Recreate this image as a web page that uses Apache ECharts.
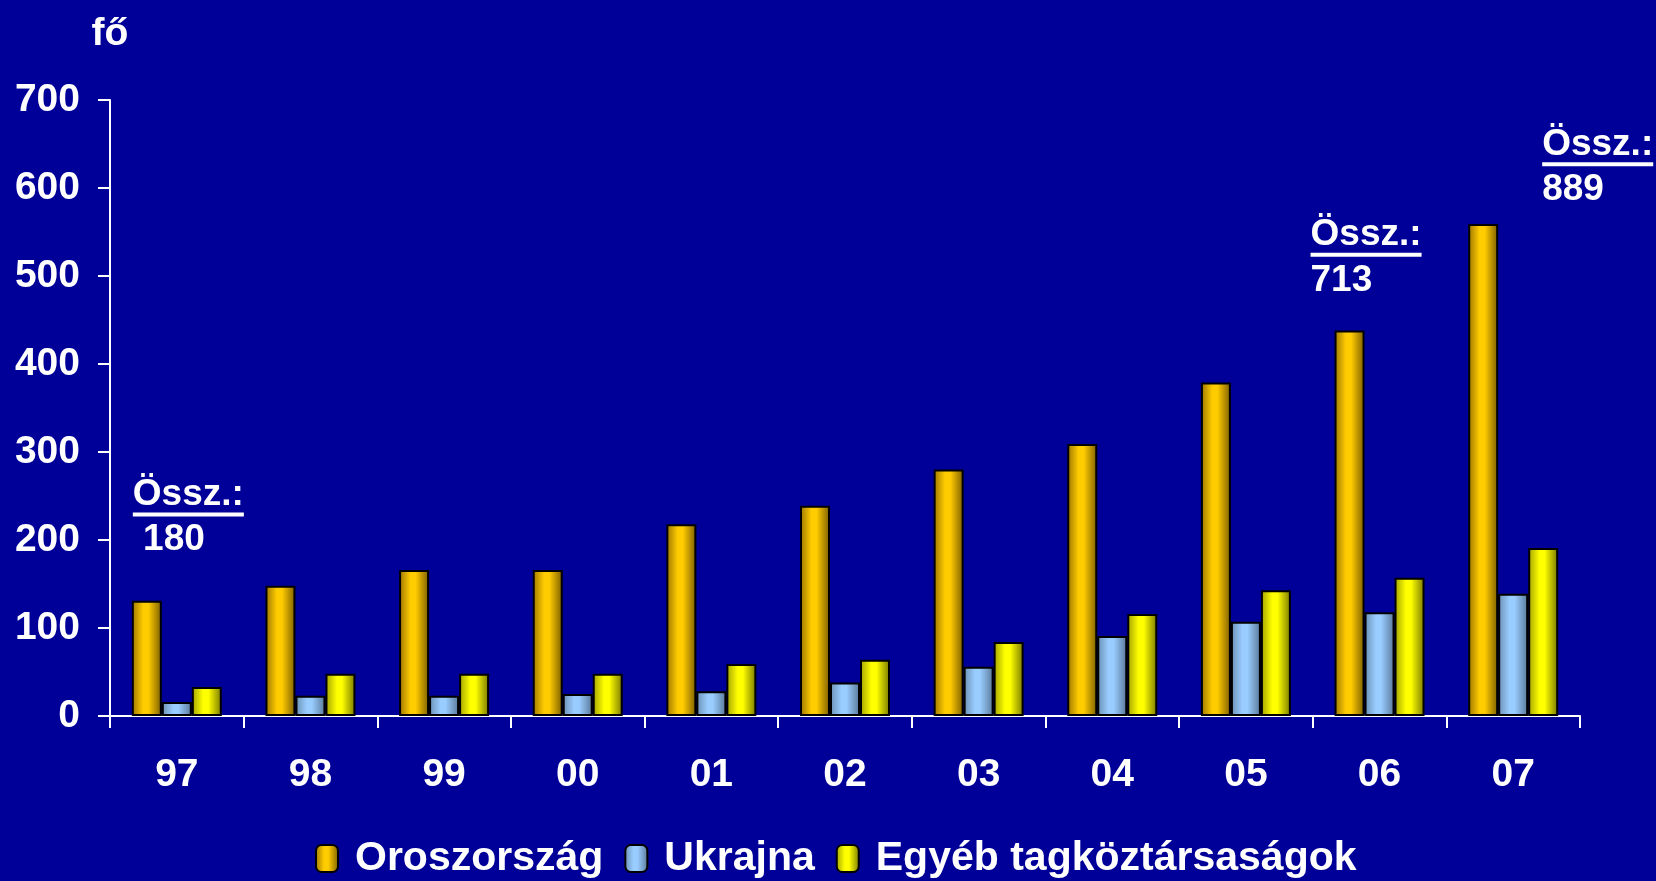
<!DOCTYPE html>
<html>
<head>
<meta charset="utf-8">
<script src="https://cdn.jsdelivr.net/npm/echarts@6/dist/echarts.min.js"></script>
<style>
html,body{margin:0;padding:0;background:#000099;}
#c{width:1656px;height:881px;}
</style>
</head>
<body>
<div id="c"></div>
<script>
// ---- data ----
const categories = ['97','98','99','00','01','02','03','04','05','06','07'];
const oroszorszag = [131,148,166,166,218,239,280,309,379,438,559];
const ukrajna     = [16,23,23,25,28,38,56,91,107,118,139];
const egyeb       = [33,48,48,48,59,64,84,116,143,157,191];
const seriesNames = ['Oroszország','Ukrajna','Egyéb tagköztársaságok'];
const yTicks = [0,100,200,300,400,500,600,700];
const totalLabel = 'Össz.:';
const totalCats = ['97','06','07'];
const totalValues = [180,713,889];

// ---- layout for total annotations (pixel offsets from category centre, value-axis anchors of baselines) ----
const annotLayout = [
  {dx:-44, headY:237, numY:186, numPrefix:' '},
  {dx:-69, headY:532, numY:480, numPrefix:''},
  {dx:29,  headY:635, numY:583, numPrefix:''}
];

const FONT = '"Liberation Sans", Arial, Helvetica, sans-serif';
const chart = echarts.init(document.getElementById('c'), null, {renderer:'canvas'});

function grad(dark1, mid, dark2){
  return new echarts.graphic.LinearGradient(0,0,1,0,[
    {offset:0, color:dark1},
    {offset:0.38, color:mid},
    {offset:0.55, color:mid},
    {offset:1, color:dark2}
  ]);
}
const colors = [
  grad('#9a7400','#ffcc00','#7a5c00'),
  grad('#6a8fb2','#99ccff','#587696'),
  grad('#a0a000','#ffff00','#767600')
];
const dataSets = [oroszorszag, ukrajna, egyeb];

const option = {
  backgroundColor:'#000099',
  animation:false,
  textStyle:{fontFamily:FONT, fontWeight:'bold', color:'#fff'},
  grid:{left:110, right:76, top:100, bottom:165},
  legend:{
    bottom:2, left:315, padding:0,
    itemWidth:22, itemHeight:27, itemGap:21,
    textStyle:{color:'#fff', fontSize:41, fontWeight:'bold', fontFamily:FONT, padding:[0,0,0,12]},
    data:seriesNames
  },
  xAxis:{
    type:'category', data:categories,
    axisLine:{lineStyle:{color:'#fff', width:2}},
    axisTick:{show:true, length:12, lineStyle:{color:'#fff', width:2}},
    axisLabel:{color:'#fff', fontSize:39, fontWeight:'bold', fontFamily:FONT, margin:40}
  },
  yAxis:{
    type:'value', min:yTicks[0], max:yTicks[yTicks.length-1], interval:100,
    name:'fő', nameLocation:'end', nameGap:46,
    nameTextStyle:{color:'#fff', fontSize:39, fontWeight:'bold', fontFamily:FONT, align:'center', verticalAlign:'bottom'},
    axisLine:{show:true, lineStyle:{color:'#fff', width:2}},
    axisTick:{show:true, length:12, lineStyle:{color:'#fff', width:2}},
    splitLine:{show:false},
    axisLabel:{color:'#fff', fontSize:39, fontWeight:'bold', fontFamily:FONT, margin:30}
  },
  series: seriesNames.map((n,i)=>({
    name:n, type:'bar', data:dataSets[i],
    barWidth:30, barGap:'0%',
    itemStyle:{color:colors[i], borderColor:'#000', borderWidth:2}
  }))
};
chart.setOption(option);

// ---- total annotations ----
const AFS = 37;
const AFONT = 'bold ' + AFS + 'px ' + FONT;
const ctx = document.createElement('canvas').getContext('2d');
ctx.font = AFONT;
const headW = ctx.measureText(totalLabel).width;
const midShift = 0.3465 * AFS; // alphabetic baseline below em-middle
const elements = [];
totalCats.forEach((cat, i) => {
  const L = annotLayout[i];
  const pHead = chart.convertToPixel({xAxisIndex:0, yAxisIndex:0}, [cat, L.headY]);
  const pNum = chart.convertToPixel({xAxisIndex:0, yAxisIndex:0}, [cat, L.numY]);
  const x = pHead[0] + L.dx;
  elements.push({type:'text', x:x, y:pHead[1] - midShift, style:{text:totalLabel, fill:'#fff', font:AFONT, align:'left', verticalAlign:'middle'}});
  elements.push({type:'rect', shape:{x:x, y:pHead[1]+5, width:headW, height:4}, style:{fill:'#fff'}});
  elements.push({type:'text', x:x, y:pNum[1] - midShift, style:{text:L.numPrefix + totalValues[i], fill:'#fff', font:AFONT, align:'left', verticalAlign:'middle'}});
});
chart.setOption({graphic:{elements:elements}});
</script>
</body>
</html>
